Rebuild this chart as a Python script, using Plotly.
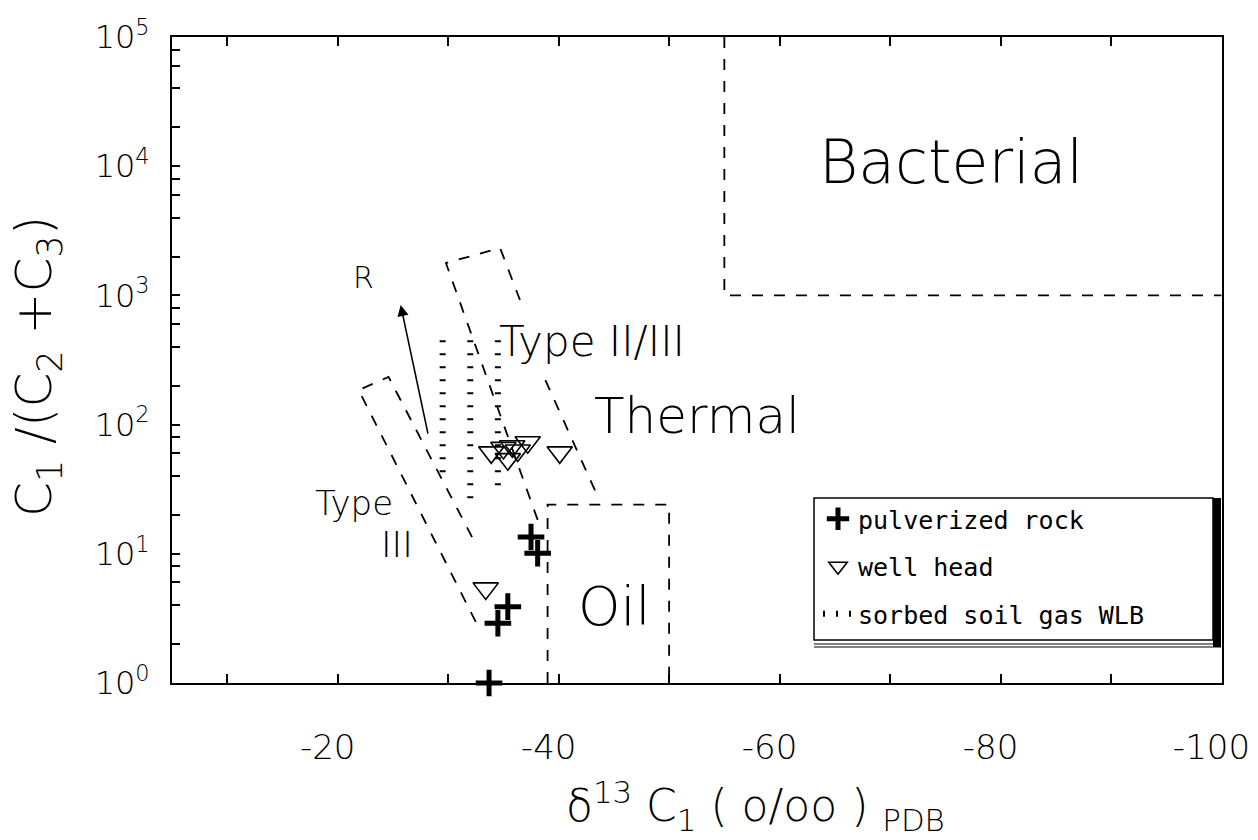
import numpy as np
import plotly.graph_objects as go

FONT = "DejaVu Sans Mono"
THIN = "DejaVu Sans"

# ---------------- data ----------------
# pulverized rock samples: delta13C1 (per mil PDB), C1/(C2+C3)
rock_d13c = [-33.7, -34.5, -35.4, -37.5, -38.1]
rock_ratio = [1.0, 2.9, 3.9, 13.5, 10.1]

# well head samples
well_d13c = [-33.4, -33.9, -35.0, -35.8, -36.3, -37.2, -35.4, -40.1]
well_ratio = [5.4, 61, 66, 68, 63, 73, 54, 61]

# sorbed soil gas WLB: vertical ranges
soil_d13c = [-29.5, -32.0, -34.5]
soil_low = [41, 25, 33]
soil_high = [450, 450, 450]

# field boundaries (dashed)
bact_x = [-55, -55, -100]
bact_y = [1e5, 1000, 1000]
oil_x = [-39, -39, -50, -50]
oil_y = [1, 24, 24, 1]
type3_x = [-32.5, -21.9, -24.6, -32.3]
type3_y = [2.97, 185, 234, 12.8]
type23_x = [-38.1, -29.8, -34.7, -36.5, None, -38.8, -43.6]
type23_y = [18.3, 1780, 2330, 921, None, 221, 27]

# maturity arrow R (tail -> head)
arrow_x = [-28.2, -25.7]
arrow_y = [83, 843]

# axis ticks
x_ticks = [-20, -40, -60, -80, -100]
x_minor = [-10, -30, -50, -70, -90]
y_decades = [1, 10, 100, 1000, 10000, 100000]
y_ticktext = ["10<sup>%d</sup>" % i for i in range(6)]

# ---------------- figure ----------------
L, R, T, B = 172, 1222, 37, 683
W, H = 1258, 840


def px(xp, yp):
    return (xp - L) / (R - L), (B - yp) / (B - T)


fig = go.Figure()
dash_line = dict(color="black", width=1.8, dash="11px,11px")

fig.add_trace(go.Scatter(x=bact_x, y=bact_y, mode="lines", line=dash_line,
                         showlegend=False, hoverinfo="skip"))
fig.add_trace(go.Scatter(x=oil_x, y=oil_y, mode="lines", line=dash_line,
                         showlegend=False, hoverinfo="skip", cliponaxis=False))
fig.add_trace(go.Scatter(x=type3_x, y=type3_y, mode="lines", line=dash_line,
                         showlegend=False, hoverinfo="skip"))
fig.add_trace(go.Scatter(x=type23_x, y=type23_y, mode="lines", line=dash_line,
                         showlegend=False, hoverinfo="skip", connectgaps=False))

fig.add_trace(go.Scatter(x=rock_d13c, y=rock_ratio, mode="markers",
                         name="pulverized rock", legendgroup="a", cliponaxis=False,
                         marker=dict(symbol="cross-thin", size=19, color="black",
                                     line=dict(color="black", width=5))))
fig.add_trace(go.Scatter(x=well_d13c, y=well_ratio, mode="markers",
                         name="well head", legendgroup="b", cliponaxis=False,
                         marker=dict(symbol="triangle-down-open", size=22,
                                     color="black", line=dict(color="black", width=1.6))))

# sorbed soil gas columns
sx, sy = [], []
for xv, lo, hi in zip(soil_d13c, soil_low, soil_high):
    sx += [xv, xv, None]
    sy += [hi, lo, None]
fig.add_trace(go.Scatter(x=sx, y=sy, mode="lines", name="sorbed soil gas WLB",
                         legendgroup="c", connectgaps=False,
                         line=dict(color="black", width=6, dash="2px,11px"),
                         hoverinfo="skip"))


def tf(s, fam=THIN):
    return dict(family=fam, size=s, color="black", weight=200)


ann = [
    dict(x=-75.5, y=4.03, text="Bacterial", font=tf(60)),
    dict(x=-52.5, y=2.07, text="Thermal", font=tf(50)),
    dict(x=-45.1, y=0.59, text="Oil", font=tf(54)),
    dict(x=-43.0, y=2.64, text="Type II/III", font=tf(42)),
    dict(x=-21.5, y=1.39, text="Type", font=tf(34)),
    dict(x=-25.4, y=1.07, text="III", font=tf(36)),
    dict(x=-22.35, y=3.14, text="R", font=tf(30)),
]
for a in ann:
    a.update(xref="x", yref="y", showarrow=False, xanchor="center", yanchor="middle")
ann.append(dict(x=arrow_x[1], y=np.log10(arrow_y[1]), ax=arrow_x[0],
                ay=np.log10(arrow_y[0]), xref="x", yref="y", axref="x", ayref="y",
                showarrow=True, arrowhead=2, arrowsize=1.4, arrowwidth=1.6,
                arrowcolor="black", text=""))
# axis titles
tx, _ = px(755, 0)
_, ty = px(0, 806)
ann.append(dict(x=tx, y=ty, xref="paper", yref="paper", showarrow=False,
                xanchor="center", yanchor="middle",
                text="δ<sup>13</sup> C<sub>1</sub> ( o/oo ) <sub>PDB</sub>",
                font=tf(44)))
ax_, _ = px(37, 0)
_, ay_ = px(0, 367)
ann.append(dict(x=ax_, y=ay_, xref="paper", yref="paper", showarrow=False,
                xanchor="center", yanchor="middle", textangle=-90,
                text="C<sub>1</sub> /(C<sub>2</sub> +C<sub>3</sub>)",
                font=tf(50)))

# legend frame with shadow
bx0, by0 = px(814, 498)
bx1, by1 = px(1213, 640)
sx1, _ = px(1221, 0)
_, sy1 = px(0, 647)
_, sy2 = px(0, 644)
shapes = [
    dict(type="rect", xref="paper", yref="paper", x0=bx1, x1=sx1, y0=sy1, y1=by0,
         fillcolor="black", line=dict(width=0)),
    dict(type="rect", xref="paper", yref="paper", x0=bx0, x1=bx1, y0=by1, y1=by0,
         fillcolor="white", line=dict(color="black", width=1.5)),
    dict(type="line", xref="paper", yref="paper", x0=bx0, x1=sx1, y0=sy2, y1=sy2,
         line=dict(color="black", width=1.2)),
    dict(type="line", xref="paper", yref="paper", x0=bx0, x1=sx1, y0=sy1, y1=sy1,
         line=dict(color="black", width=1.2)),
]

lx, ly = px(818, 496)
fig.update_layout(
    width=W, height=H,
    margin=dict(l=L, r=W - R, t=T, b=H - B, autoexpand=False),
    paper_bgcolor="white", plot_bgcolor="white",
    font=dict(family=FONT, color="black"),
    annotations=ann, shapes=shapes,
    legend=dict(x=lx, y=ly, xanchor="left", yanchor="top",
                bgcolor="rgba(0,0,0,0)", borderwidth=0,
                font=dict(family=FONT, size=25), tracegroupgap=12,
                traceorder="grouped"),
    xaxis=dict(range=[-5, -100.05], tickvals=x_ticks, ticktext=[str(v) for v in x_ticks],
               ticks="inside", ticklen=9, tickwidth=1.6, tickcolor="black",
               minor=dict(tickvals=x_minor, ticks="inside", ticklen=9, tickwidth=1.6,
                          tickcolor="black"),
               showline=True, linewidth=2, linecolor="black", mirror="ticks",
               showgrid=False, zeroline=False, tickfont=tf(34), automargin=False,
               ticklabelstandoff=33, ticklabelshift=10, ticklabeloverflow="allow"),
    yaxis=dict(type="log", range=[0, 5], tickvals=y_decades, ticktext=y_ticktext,
               ticks="inside", ticklen=8, tickwidth=1.6, tickcolor="black",
               minor=dict(tickvals=[m * d for d in y_decades[:-1] for m in (2, 4, 6, 8)],
                          ticks="inside", ticklen=8, tickwidth=1.6, tickcolor="black"),
               showline=True, linewidth=2, linecolor="black", mirror=True,
               showgrid=False, zeroline=False, tickfont=tf(32), automargin=False,
               ticklabelstandoff=14),
)

fig.write_html("out.html", config={"displayModeBar": False},
               post_script="document.body.style.margin='0px';")
